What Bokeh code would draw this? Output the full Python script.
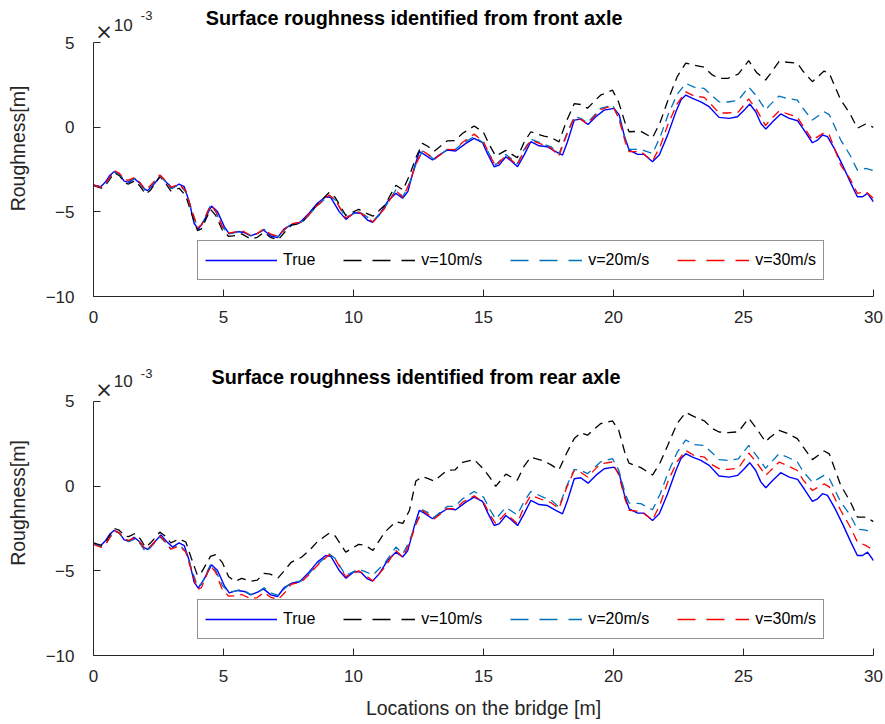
from bokeh.plotting import figure
from bokeh.layouts import column
from bokeh.models import (Legend, LegendItem, Label, ColumnDataSource,
                          FixedTicker, Range1d)
from bokeh.embed import file_html
from bokeh.resources import INLINE

# ---- True road profile (units of 1e-3 m) ----
true_location = [0.00, 0.28, 0.47, 0.62, 0.79, 0.99, 1.18, 1.37, 1.56, 1.76,
                 1.92, 2.08, 2.33, 2.59, 2.84, 3.04, 3.29, 3.49, 3.68, 3.87,
                 4.03, 4.26, 4.54, 4.77, 5.03, 5.22, 5.54, 5.80, 6.05, 6.31,
                 6.54, 6.82, 7.08, 7.33, 7.65, 7.91, 8.29, 8.61, 8.93, 9.13,
                 9.45, 9.71, 10.02, 10.28, 10.54, 10.73, 10.99, 11.31, 11.63, 11.89,
                 12.09, 12.33, 12.53, 12.72, 13.04, 13.29, 13.61, 13.93, 14.32, 14.64,
                 14.96, 15.15, 15.41, 15.60, 15.86, 16.10, 16.31, 16.56, 16.82, 17.14,
                 17.46, 17.78, 18.04, 18.23, 18.49, 18.74, 19.02, 19.32, 19.64, 20.02,
                 20.22, 20.41, 20.60, 20.93, 21.18, 21.50, 21.76, 22.08, 22.40, 22.59,
                 22.78, 23.04, 23.36, 23.68, 24.06, 24.45, 24.77, 25.03, 25.24, 25.47,
                 25.67, 25.86, 26.12, 26.43, 26.76, 27.08, 27.33, 27.65, 27.85, 28.04,
                 28.23, 28.49, 28.81, 29.13, 29.38, 29.58, 29.77, 30.00]

true_profile = [-3.41, -3.51, -3.21, -2.85, -2.62, -2.76, -3.18, -3.25, -3.02, -3.27,
                -3.60, -3.74, -3.35, -2.88, -3.31, -3.60, -3.35, -3.51, -4.39, -5.67,
                -6.03, -5.48, -4.65, -4.98, -5.87, -6.30, -6.16, -6.22, -6.42, -6.26,
                -6.07, -6.42, -6.52, -6.00, -5.72, -5.67, -5.08, -4.49, -4.10, -4.15,
                -4.98, -5.44, -5.05, -5.08, -5.48, -5.61, -5.18, -4.39, -3.90, -4.19,
                -3.80, -2.42, -1.44, -1.60, -1.93, -1.64, -1.34, -1.40, -0.95, -0.65,
                -0.90, -1.54, -2.33, -2.23, -1.74, -2.03, -2.33, -1.64, -0.85, -1.09,
                -1.15, -1.44, -1.64, -0.85, 0.43, 0.49, 0.17, 0.63, 1.02, 1.12,
                0.73, -0.46, -1.34, -1.60, -1.60, -2.03, -1.64, -0.46, 0.92, 1.61,
                1.91, 1.71, 1.51, 1.22, 0.59, 0.53, 0.63, 1.02, 1.38, 0.92,
                0.23, -0.10, 0.33, 0.79, 0.53, 0.39, -0.16, -0.91, -0.75, -0.45,
                -0.55, -1.24, -2.23, -3.31, -4.10, -4.10, -3.90, -4.40]

# ---- Identified profiles (units of 1e-3 m) ----
location = [0.0, 0.3, 0.5, 0.8, 1.0, 1.2, 1.35, 1.6, 1.8, 2.0,
            2.2, 2.55, 2.75, 2.97, 3.3, 3.55, 3.75, 4.0, 4.15, 4.5,
            4.7, 4.95, 5.2, 5.45, 5.7, 6.05, 6.3, 6.56, 6.8, 7.1,
            7.35, 7.6, 8.0, 8.3, 8.6, 9.06, 9.3, 9.7, 10.2, 10.45,
            10.75, 11.2, 11.63, 11.9, 12.15, 12.4, 12.65, 12.85, 13.1, 13.6,
            13.9, 14.2, 14.64, 15.0, 15.25, 15.47, 15.86, 16.3, 16.55, 16.82,
            17.33, 17.6, 17.9, 18.2, 18.49, 18.75, 19.0, 19.5, 19.96, 20.2,
            20.45, 20.6, 21.05, 21.5, 21.8, 22.1, 22.45, 22.78, 23.1, 23.49,
            23.8, 24.06, 24.4, 24.8, 25.2, 25.5, 25.85, 26.0, 26.37, 26.7,
            27.07, 27.3, 27.65, 28.1, 28.3, 28.74, 29.1, 29.38, 29.7, 30.0]

front_v10 = [-3.45, -3.60, -3.35, -2.68, -2.85, -3.30, -3.35, -3.15, -3.50, -3.95,
             -3.70, -2.90, -3.25, -3.75, -3.60, -4.05, -5.00, -6.10, -6.00, -4.85,
             -5.20, -6.05, -6.45, -6.40, -6.30, -6.60, -6.50, -6.20, -6.50, -6.65,
             -6.20, -5.80, -5.65, -5.15, -4.58, -3.85, -4.15, -5.20, -4.85, -5.05,
             -5.25, -4.60, -3.42, -3.70, -2.85, -1.80, -0.95, -1.12, -1.42, -0.80,
             -0.78, -0.35, 0.08, -0.30, -1.10, -1.70, -1.36, -1.80, -0.92, -0.26,
             -0.52, -0.60, -0.86, 0.40, 1.40, 1.35, 1.13, 1.90, 2.20, 1.48,
             0.25, -0.26, -0.23, -0.62, 0.32, 1.63, 3.00, 3.80, 3.68, 3.55,
             3.10, 2.90, 2.90, 3.15, 3.94, 3.25, 2.80, 3.10, 3.90, 3.85,
             3.80, 3.30, 2.70, 3.33, 3.20, 1.62, 0.80, -0.05, 0.20, 0.00]

front_v20 = [-3.42, -3.55, -3.28, -2.62, -2.78, -3.12, -3.18, -3.02, -3.32, -3.78,
             -3.50, -2.88, -3.18, -3.62, -3.40, -3.82, -4.78, -5.90, -5.80, -4.62,
             -4.98, -5.88, -6.28, -6.22, -6.12, -6.40, -6.30, -6.02, -6.32, -6.45,
             -6.05, -5.72, -5.60, -5.15, -4.65, -4.02, -4.30, -5.32, -4.98, -5.22,
             -5.55, -4.75, -3.70, -4.10, -3.30, -2.20, -1.40, -1.58, -1.90, -1.30,
             -1.32, -0.95, -0.55, -0.92, -1.65, -2.22, -1.60, -2.16, -1.35, -0.70,
             -1.00, -1.15, -1.58, -0.38, 0.63, 0.52, 0.27, 1.12, 1.32, 0.62,
             -0.70, -1.30, -1.30, -1.55, -0.55, 0.75, 1.95, 2.60, 2.38, 2.30,
             1.85, 1.51, 1.50, 1.60, 2.38, 1.85, 1.02, 1.30, 1.85, 1.70,
             1.61, 1.10, 0.43, 0.92, 0.75, -0.75, -1.65, -2.53, -2.43, -2.55]

front_v30 = [-3.42, -3.55, -3.25, -2.55, -2.72, -3.10, -3.12, -2.95, -3.28, -3.70,
             -3.42, -2.82, -3.12, -3.55, -3.35, -3.75, -4.75, -5.92, -5.80, -4.60,
             -4.95, -5.85, -6.25, -6.18, -6.10, -6.40, -6.28, -6.00, -6.30, -6.45,
             -6.02, -5.70, -5.60, -5.12, -4.62, -4.00, -4.30, -5.35, -5.00, -5.25,
             -5.60, -4.78, -3.72, -4.15, -3.30, -2.20, -1.38, -1.58, -1.90, -1.30,
             -1.32, -0.88, -0.40, -0.85, -1.68, -2.30, -1.65, -2.25, -1.40, -0.75,
             -1.05, -1.22, -1.70, -0.45, 0.56, 0.46, 0.20, 1.05, 1.28, 0.55,
             -0.85, -1.44, -1.44, -2.00, -1.10, 0.20, 1.40, 2.10, 1.85, 1.77,
             1.28, 0.85, 0.85, 0.90, 1.68, 1.05, 0.10, 0.40, 0.97, 0.80,
             0.60, 0.05, -0.75, -0.32, -0.45, -2.23, -3.05, -3.90, -3.80, -4.20]

rear_v10 = [-3.35, -3.50, -3.22, -2.50, -2.62, -2.95, -2.98, -2.80, -3.12, -3.62,
            -3.35, -2.72, -2.95, -3.35, -3.12, -3.30, -4.20, -5.28, -5.10, -4.15,
            -4.05, -4.50, -5.35, -5.62, -5.45, -5.62, -5.55, -5.15, -5.20, -5.42,
            -4.98, -4.50, -4.20, -3.80, -3.30, -2.78, -2.95, -3.90, -3.44, -3.50,
            -3.80, -2.72, -2.10, -2.20, -1.44, 0.30, 0.55, 0.45, 0.30, 0.93,
            0.95, 1.40, 1.56, 1.00, 0.50, -0.02, 0.70, 0.35, 1.15, 1.71,
            1.48, 1.25, 0.95, 1.95, 2.80, 3.15, 3.00, 3.68, 3.84, 3.30,
            1.90, 1.35, 1.09, 0.65, 1.40, 2.45, 3.70, 4.35, 4.10, 3.85,
            3.40, 3.19, 3.15, 3.20, 4.00, 3.40, 2.60, 2.85, 3.29, 3.10,
            2.80, 2.30, 1.56, 2.07, 1.90, 0.04, -0.90, -1.83, -1.83, -2.10]

rear_v20 = [-3.42, -3.58, -3.35, -2.65, -2.80, -3.18, -3.28, -3.12, -3.42, -3.88,
            -3.62, -3.00, -3.30, -3.70, -3.48, -3.85, -4.80, -5.90, -5.80, -4.62,
            -4.98, -5.85, -6.25, -6.20, -6.10, -6.40, -6.30, -6.00, -6.30, -6.45,
            -6.05, -5.70, -5.60, -5.15, -4.65, -4.00, -4.28, -5.28, -4.90, -5.05,
            -5.25, -4.55, -3.60, -4.00, -3.25, -2.20, -1.40, -1.55, -1.85, -1.20,
            -1.20, -0.75, -0.32, -0.65, -1.40, -1.95, -1.26, -1.70, -0.95, -0.32,
            -0.68, -0.82, -1.24, 0.00, 0.98, 0.92, 0.73, 1.42, 1.62, 0.95,
            -0.45, -1.00, -1.04, -1.40, -0.45, 0.80, 2.00, 2.72, 2.45, 2.40,
            1.95, 1.56, 1.52, 1.60, 2.40, 1.80, 1.05, 1.30, 1.91, 1.70,
            1.42, 0.85, 0.23, 0.63, 0.45, -0.95, -1.70, -2.55, -2.60, -2.75]

rear_v30 = [-3.45, -3.62, -3.35, -2.62, -2.78, -3.12, -3.20, -3.05, -3.32, -3.75,
            -3.55, -2.95, -3.25, -3.72, -3.55, -3.90, -4.90, -6.10, -6.00, -4.70,
            -5.10, -6.10, -6.50, -6.48, -6.40, -6.65, -6.58, -6.28, -6.55, -6.70,
            -6.30, -5.80, -5.65, -5.20, -4.70, -4.05, -4.32, -5.35, -5.00, -5.25,
            -5.60, -4.80, -3.80, -4.20, -3.38, -2.28, -1.45, -1.65, -1.95, -1.32,
            -1.35, -0.95, -0.58, -0.95, -1.70, -2.22, -1.60, -2.22, -1.25, -0.55,
            -0.84, -0.98, -1.34, -0.08, 0.92, 0.80, 0.53, 1.32, 1.42, 0.65,
            -0.80, -1.44, -1.50, -2.00, -1.05, 0.30, 1.45, 2.10, 1.80, 1.71,
            1.25, 1.03, 0.98, 1.05, 1.95, 1.40, 0.63, 0.85, 1.42, 1.20,
            0.92, 0.35, -0.26, 0.13, -0.05, -1.44, -2.40, -3.30, -3.50, -3.80]

x_ticks = [0, 5, 10, 15, 20, 25, 30]
y_ticks = [-10, -5, 0, 5]
series_labels = ["True", "v=10m/s", "v=20m/s", "v=30m/s"]
series_colors = ["#0000FF", "#000000", "#0072BD", "#FF0000"]

FONT = "Liberation Sans"
AX = "#262626"
NAN = float("nan")


def make_panel(title, v10, v20, v30, height, y_top, b_bottom, title_pos,
               expo_y, xlabel=None):
    p = figure(width=885, height=height, x_range=Range1d(0, 30),
               y_range=Range1d(-10, y_top), output_backend="svg",
               toolbar_location=None, title=None, min_border_left=93,
               min_border_right=12, min_border_top=0,
               min_border_bottom=b_bottom)
    p.xgrid.visible = False
    p.ygrid.visible = False
    p.outline_line_color = None

    for ax, ticks in ((p.xaxis[0], x_ticks), (p.yaxis[0], y_ticks)):
        ax.ticker = FixedTicker(ticks=ticks)
        ax.major_tick_in = 7
        ax.major_tick_out = 0
        ax.minor_tick_line_color = None
        ax.axis_line_color = AX
        ax.major_tick_line_color = AX
        ax.major_label_text_font = FONT
        ax.major_label_text_font_size = "17px"
        ax.major_label_text_color = AX
        ax.axis_label_text_font = FONT
        ax.axis_label_text_font_size = "19.5px"
        ax.axis_label_text_font_style = "normal"
        ax.axis_label_text_color = AX
    p.yaxis.bounds = (-10, 5)
    p.yaxis.axis_label = "Roughness[m]"
    p.yaxis.major_label_standoff = 19
    p.yaxis.axis_label_standoff = 14
    p.xaxis.major_label_standoff = 14
    if xlabel:
        p.xaxis.axis_label = xlabel
        p.xaxis.axis_label_standoff = 12

    tsrc = ColumnDataSource(dict(x=true_location, y=true_profile))
    src = ColumnDataSource(dict(x=location, a=v10, b=v20, c=v30))
    p.line("x", "y", source=tsrc, line_color=series_colors[0], line_width=1.4)
    p.line("x", "a", source=src, line_color=series_colors[1], line_width=1.3,
           line_dash="9 6")
    p.line("x", "b", source=src, line_color=series_colors[2], line_width=1.3,
           line_dash="9 6")
    p.line("x", "c", source=src, line_color=series_colors[3], line_width=1.3,
           line_dash="9 6")

    # legend samples (renderers without visible data, longer dash as in the legend box)
    items = []
    for i, (lab, col) in enumerate(zip(series_labels, series_colors)):
        kw = {} if i == 0 else {"line_dash": "18 11"}
        r = p.line(x=[NAN], y=[NAN], line_color=col, line_width=1.3, **kw)
        items.append(LegendItem(label=lab, renderers=[r]))
    leg = Legend(items=items, orientation="horizontal", location=(104, 16),
                 glyph_width=72, glyph_height=24, label_height=24,
                 label_standoff=6, spacing=28, padding=7, margin=0,
                 border_line_color=AX, border_line_width=1,
                 label_text_font=FONT, label_text_font_size="16px",
                 label_text_color="#000000", background_fill_color="white",
                 background_fill_alpha=1.0)
    p.add_layout(leg)

    # title
    p.add_layout(Label(x=title_pos[0], y=title_pos[1], text=title,
                       text_font=FONT, text_font_size="19.8px",
                       text_font_style="bold", text_baseline="middle",
                       text_color="#000000"))

    # axis exponent  x10^-3
    p.add_layout(Label(x=0.07, y=expo_y[0], text="\u00d7", text_font="DejaVu Sans",
                       text_font_size="21px", text_baseline="middle",
                       text_color=AX))
    p.add_layout(Label(x=0.78, y=expo_y[1], text="10", text_font=FONT,
                       text_font_size="17px", text_baseline="middle",
                       text_color=AX))
    p.add_layout(Label(x=1.82, y=expo_y[2], text="-3", text_font=FONT,
                       text_font_size="13px", text_baseline="middle",
                       text_color=AX))
    return p


p1 = make_panel("Surface roughness identified from front axle",
                front_v10, front_v20, front_v30, 350, 7.5, 54,
                (4.32, 6.44), (5.66, 6.08, 6.64))
p2 = make_panel("Surface roughness identified from rear axle",
                rear_v10, rear_v20, rear_v30, 374, 8.0, 69,
                (4.54, 6.42), (5.66, 6.21, 6.65),
                xlabel="Locations on the bridge [m]")

layout = column(p1, p2, spacing=0)
open("out.html", "w").write(file_html(layout, INLINE))
